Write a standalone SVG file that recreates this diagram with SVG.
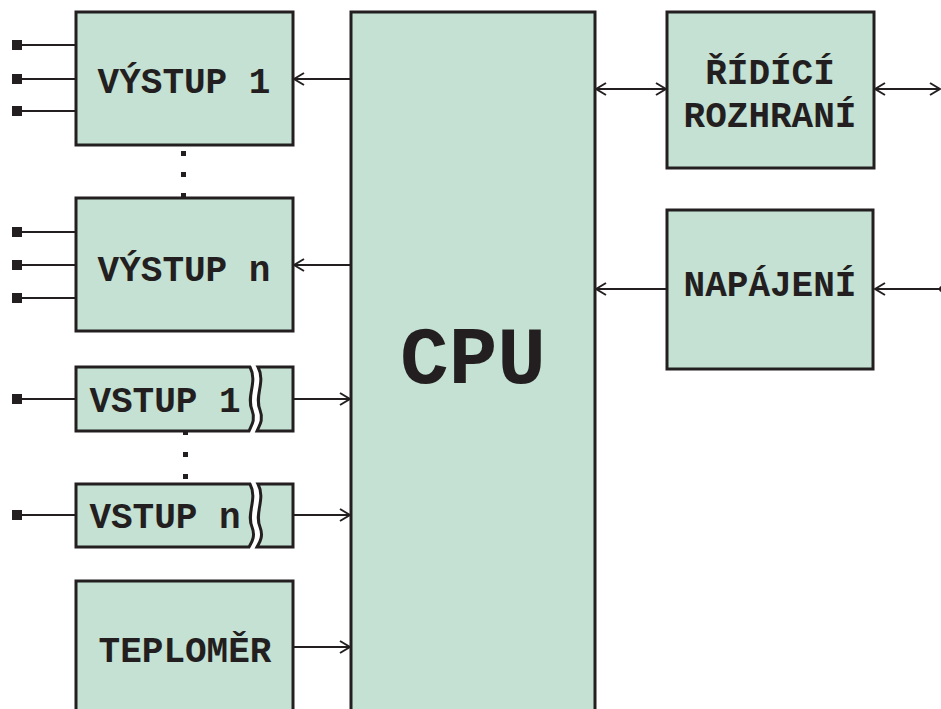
<svg xmlns="http://www.w3.org/2000/svg" width="941" height="709" viewBox="0 0 941 709">
<style>
.box{fill:#c5e1d3;stroke:#231f20;stroke-width:3}
.ln{fill:none;stroke:#231f20;stroke-width:2}
.t{font-family:"Liberation Mono","Courier New",monospace;font-weight:bold;font-size:36px;fill:#231f20;text-anchor:middle}
.pin{fill:#231f20}
</style>
<defs>
<marker id="ah" viewBox="0 0 12 14" refX="11" refY="7" markerWidth="12" markerHeight="14" markerUnits="userSpaceOnUse" orient="auto-start-reverse">
<path d="M1,1 L11,7 L1,13" fill="none" stroke="#231f20" stroke-width="2"/>
</marker>
</defs>
<rect width="941" height="709" fill="#fff"/>
<g id="connectors">
<path class="ln" d="M22,45H76M22,79H76M22,111H76"/>
<path class="ln" d="M22,232H76M22,265H76M22,298H76"/>
<path class="ln" d="M22,399H76M22,515H76"/>
<rect class="pin" x="12" y="40" width="10" height="10"/>
<rect class="pin" x="12" y="74" width="10" height="10"/>
<rect class="pin" x="12" y="106" width="10" height="10"/>
<rect class="pin" x="12" y="227" width="10" height="10"/>
<rect class="pin" x="12" y="260" width="10" height="10"/>
<rect class="pin" x="12" y="293" width="10" height="10"/>
<rect class="pin" x="12" y="394" width="10" height="10"/>
<rect class="pin" x="12" y="510" width="10" height="10"/>
<line class="ln" x1="351" y1="79" x2="294" y2="79" marker-end="url(#ah)"/>
<line class="ln" x1="351" y1="265" x2="294" y2="265" marker-end="url(#ah)"/>
<line class="ln" x1="293" y1="399" x2="350" y2="399" marker-end="url(#ah)"/>
<line class="ln" x1="293" y1="515" x2="350" y2="515" marker-end="url(#ah)"/>
<line class="ln" x1="293" y1="647" x2="350" y2="647" marker-end="url(#ah)"/>
<line class="ln" x1="596" y1="89" x2="666" y2="89" marker-start="url(#ah)" marker-end="url(#ah)"/>
<line class="ln" x1="875" y1="89" x2="940" y2="89" marker-start="url(#ah)" marker-end="url(#ah)"/>
<line class="ln" x1="667" y1="289" x2="596" y2="289" marker-end="url(#ah)"/>
<line class="ln" x1="941" y1="289" x2="875" y2="289" marker-end="url(#ah)"/>
<circle class="pin" cx="942" cy="289" r="3"/>
<g class="pin">
<rect x="181" y="151" width="5" height="5"/>
<rect x="181" y="172" width="5" height="5"/>
<rect x="181" y="193" width="5" height="5"/>
<rect x="183" y="430" width="5" height="5"/>
<rect x="183" y="452" width="5" height="5"/>
<rect x="183" y="474" width="5" height="5"/>
</g>
</g>
<g id="cpu">
<rect class="box" x="351" y="12" width="244" height="710"/>
<text class="t" x="473" y="383" style="font-size:81px">CPU</text>
</g>
<g id="vystup1">
<rect class="box" x="76" y="12" width="217" height="133"/>
<text class="t" x="184" y="93">VÝSTUP 1</text>
</g>
<g id="vystupn">
<rect class="box" x="76" y="198" width="217" height="133"/>
<text class="t" x="184" y="281">VÝSTUP n</text>
</g>
<g id="vstup1">
<path class="box" d="M76,367H250C258,382 246,396 252,410C256,420 251,426 249,431H76Z"/>
<path class="box" d="M258,367H293V431H257C259,426 264,420 260,410C254,396 266,382 258,367Z"/>
<text class="t" x="165" y="412">VSTUP 1</text>
</g>
<g id="vstupn">
<path class="box" d="M76,484H250C258,499 246,513 252,527C256,537 251,543 249,547H76Z"/>
<path class="box" d="M258,484H293V547H257C259,543 264,537 260,527C254,513 266,499 258,484Z"/>
<text class="t" x="165" y="528">VSTUP n</text>
</g>
<g id="teplomer">
<rect class="box" x="76" y="581" width="217" height="140"/>
<text class="t" x="185" y="662">TEPLOMĚR</text>
</g>
<g id="ridici">
<rect class="box" x="667" y="12" width="207" height="156"/>
<text class="t" x="770" y="84">ŘÍDÍCÍ</text>
<text class="t" x="770" y="127">ROZHRANÍ</text>
</g>
<g id="napajeni">
<rect class="box" x="667" y="210" width="206" height="159"/>
<text class="t" x="770" y="296">NAPÁJENÍ</text>
</g>
</svg>
